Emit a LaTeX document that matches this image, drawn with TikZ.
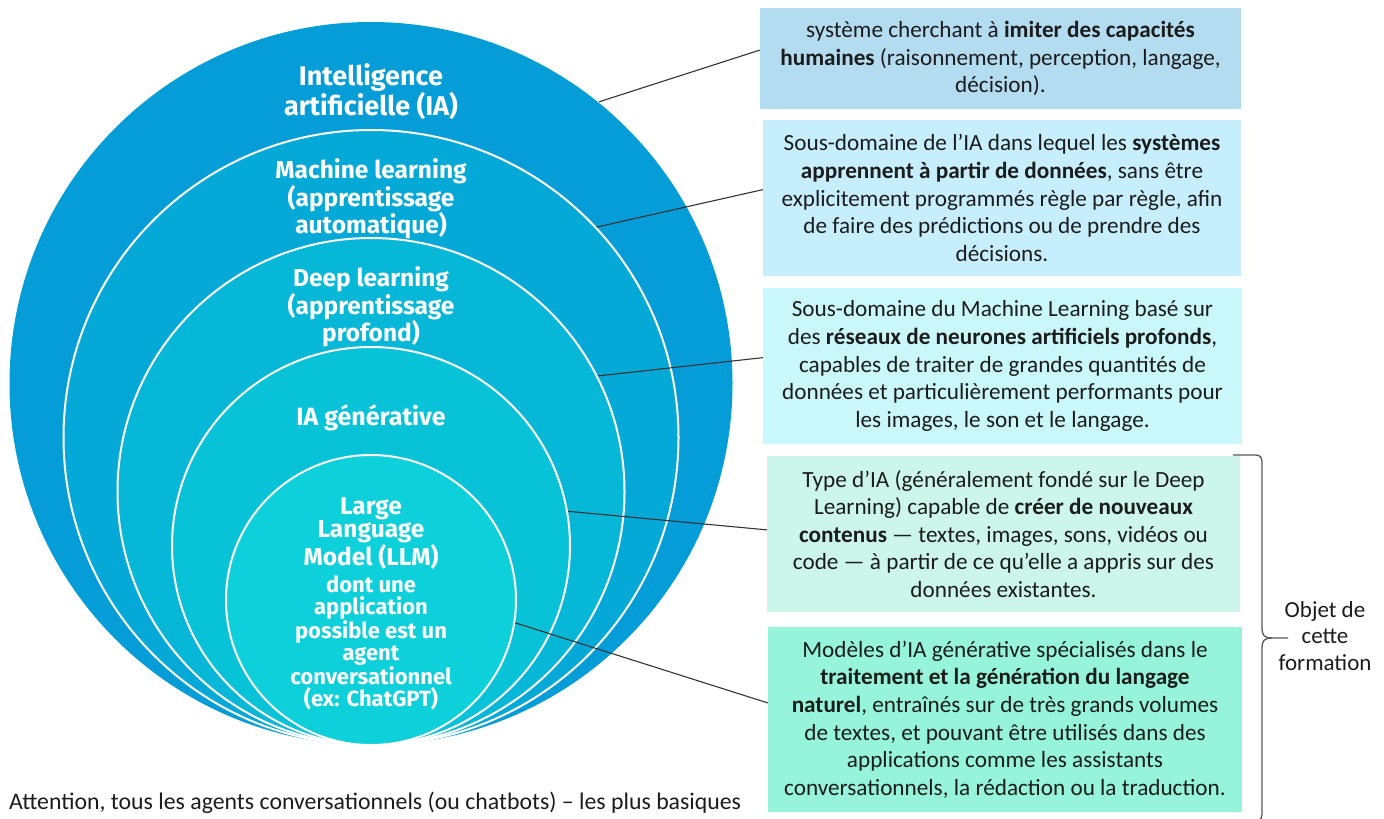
\documentclass[tikz,border=0pt]{standalone}
\usepackage{fontspec}
\setmainfont{Carlito}
\newfontfamily\circfont{Fira Sans}
\definecolor{cia}{HTML}{049DD8}
\definecolor{cml}{HTML}{05A9D7}
\definecolor{cdl}{HTML}{07B7D7}
\definecolor{cgen}{HTML}{08C3D8}
\definecolor{cllm}{HTML}{0ED0DA}
\definecolor{bxa}{HTML}{B4DCF1}
\definecolor{bxb}{HTML}{C6EEFC}
\definecolor{bxc}{HTML}{CAF8FA}
\definecolor{bxd}{HTML}{CCF6EA}
\definecolor{bxe}{HTML}{95F4DA}
\definecolor{ink}{HTML}{1C1C1C}
\begin{document}
\begin{tikzpicture}[x=1pt,y=-1pt,
  ring/.style={circle, inner sep=0pt, draw=white, line width=2pt},
  ctext/.style={text=white, align=center, inner sep=0pt},
  box/.style={rectangle, inner sep=0pt, align=center, text=ink, font=\fontsize{23.2}{27.6}\selectfont},
  link/.style={draw=black!80, line width=1.1pt},
]
\useasboundingbox (0,0) rectangle (1384,819);
% nested circles, all tangent at the bottom
\node[ring, draw=none, fill=cia, minimum size=723pt] (ia) at (371,383.5) {};
\node[ring, fill=cml, minimum size=615pt] (ml) at (371,437.5) {};
\node[ring, fill=cdl, minimum size=507pt] (dl) at (371,491.5) {};
\node[ring, fill=cgen, minimum size=398pt] (gen) at (371,546) {};
\node[ring, fill=cllm, minimum size=290pt] (llm) at (371,600) {};
% circle labels
\node[ctext, font=\circfont\bfseries\fontsize{27}{27}\selectfont] (tia) at (371,92) {Intelligence\\artificielle (IA)};
\node[ctext, font=\circfont\bfseries\fontsize{24.5}{24}\selectfont] (tml) at (371,199) {Machine learning\\(apprentissage\\automatique)};
\node[ctext, font=\circfont\bfseries\fontsize{24.5}{23.5}\selectfont] (tdl) at (371,307) {Deep learning\\(apprentissage\\profond)};
\node[ctext, font=\circfont\bfseries\fontsize{25}{23.5}\selectfont] (tgen) at (371,418) {IA générative};
\node[ctext, font=\circfont\bfseries\fontsize{24.5}{23.5}\selectfont] (tllm) at (371,533) {Large\\Language\\Model (LLM)};
\node[ctext, font=\circfont\bfseries\fontsize{22}{22.4}\selectfont] (tapp) at (371,643) {dont une\\application\\possible est un\\agent\\conversationnel\\(ex: ChatGPT)};
% description boxes
\node[box, fill=bxa, minimum width=481pt, minimum height=101pt] (b1) at (1000.5,58.5)
 {système cherchant à \textbf{imiter des capacités}\\\textbf{humaines} (raisonnement, perception, langage,\\décision).};
\node[box, fill=bxb, minimum width=478pt, minimum height=156pt] (b2) at (1002,198)
 {Sous-domaine de l’IA dans lequel les \textbf{systèmes}\\\textbf{apprennent à partir de données}, sans être\\explicitement programmés règle par règle, afin\\de faire des prédictions ou de prendre des\\décisions.};
\node[box, fill=bxc, minimum width=479pt, minimum height=156pt] (b3) at (1002.5,366)
 {Sous-domaine du Machine Learning basé sur\\des \textbf{réseaux de neurones artificiels profonds},\\capables de traiter de grandes quantités de\\données et particulièrement performants pour\\les images, le son et le langage.};
\node[box, fill=bxd, minimum width=473pt, minimum height=156pt] (b4) at (1003.5,534)
 {Type d’IA (généralement fondé sur le Deep\\Learning) capable de \textbf{créer de nouveaux}\\\textbf{contenus} — textes, images, sons, vidéos ou\\code — à partir de ce qu’elle a appris sur des\\données existantes.};
\node[box, fill=bxe, minimum width=474pt, minimum height=185pt] (b5) at (1005,719.5)
 {Modèles d’IA générative spécialisés dans le\\\textbf{traitement et la génération du langage}\\\textbf{naturel}, entraînés sur de très grands volumes\\de textes, et pouvant être utilisés dans des\\applications comme les assistants\\conversationnels, la rédaction ou la traduction.};
% connectors
\draw[link] (ia.51) -- (b1.178);
\draw[link] (ml.43.6) -- (b2.178.8);
\draw[link] (dl.27.1) -- (b3.178.8);
\draw[link] (gen.10) -- (b4.179.5);
\draw[link] (llm.-9.3) -- (b5.176.3);
% brace
\node[align=center, inner sep=0pt, text=ink, font=\fontsize{23}{26.5}\selectfont] (obj) at (1325,636) {Objet de\\cette\\formation};
\draw[draw=black!65, line width=1.3pt, line join=round]
  (1233,455) -- (1255,455) .. controls (1262,455) and (1262,459) .. (1262,465)
  -- (1262,628) .. controls (1262,635) and (1264,638) .. (1272,638) -- (1288,638);
\draw[draw=black!65, line width=1.3pt, line join=round]
  (1272,638) .. controls (1264,638) and (1262,641) .. (1262,648) -- (1262,811)
  .. controls (1262,817) and (1262,821) .. (1255,821) -- (1233,821);
% bottom note
\node[anchor=west, inner sep=0pt, text=ink, font=\fontsize{23.8}{26}\selectfont] (att) at (9,803)
 {Attention, tous les agents conversationnels (ou chatbots) – les plus basiques};
\end{tikzpicture}
\end{document}
